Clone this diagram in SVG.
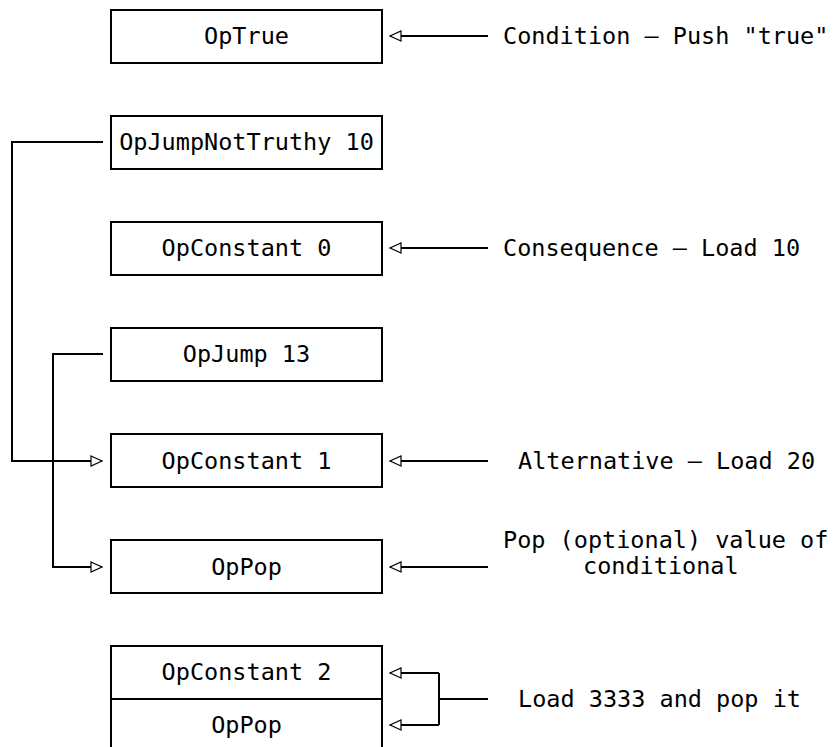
<svg xmlns="http://www.w3.org/2000/svg" width="834" height="747" viewBox="0 0 834 747">
<style>
  .box { fill: none; stroke: #000; stroke-width: 2; }
  .ln { fill: none; stroke: #000; stroke-width: 2; }
  text { font-family: "DejaVu Sans Mono", "Liberation Mono", monospace; font-size: 23.5px; fill: #000; }
  .c { text-anchor: middle; }
</style>
<defs>
  <marker id="arr" markerUnits="userSpaceOnUse" markerWidth="14" markerHeight="14" viewBox="-1 -1 14 12" refX="11" refY="5" orient="auto">
    <path d="M0,0 L11,5 L0,10 Z" fill="#fff" stroke="#000" stroke-width="1.2"/>
  </marker>
</defs>
<rect width="834" height="747" fill="#fff"/>

<g id="n-optrue">
  <rect class="box" x="111" y="10" width="271" height="53"/>
  <text class="c" x="246.5" y="44">OpTrue</text>
</g>
<g id="n-opjumpnottruthy">
  <rect class="box" x="111" y="116" width="271" height="53"/>
  <text class="c" x="246.5" y="150">OpJumpNotTruthy 10</text>
</g>
<g id="n-opconstant0">
  <rect class="box" x="111" y="222" width="271" height="53"/>
  <text class="c" x="246.5" y="256">OpConstant 0</text>
</g>
<g id="n-opjump">
  <rect class="box" x="111" y="328" width="271" height="53"/>
  <text class="c" x="246.5" y="362">OpJump 13</text>
</g>
<g id="n-opconstant1">
  <rect class="box" x="111" y="434" width="271" height="53"/>
  <text class="c" x="246.5" y="469">OpConstant 1</text>
</g>
<g id="n-oppop1">
  <rect class="box" x="111" y="540" width="271" height="53"/>
  <text class="c" x="246.5" y="575">OpPop</text>
</g>
<g id="n-opconstant2">
  <path class="box" d="M111,747 V646 H382 V747 M111,699 H382"/>
  <text class="c" x="246.5" y="680">OpConstant 2</text>
</g>
<g id="n-oppop2">
  <text class="c" x="246.5" y="733">OpPop</text>
</g>

<g id="labels">
  <text x="503" y="44">Condition – Push "true"</text>
  <text x="503" y="256">Consequence – Load 10</text>
  <text x="518" y="469">Alternative – Load 20</text>
  <text x="503" y="548">Pop (optional) value of</text>
  <text x="583" y="574">conditional</text>
  <text x="518" y="707">Load 3333 and pop it</text>
</g>

<g id="connectors">
  <path class="ln" d="M103,142 H12 V461 H102" marker-end="url(#arr)"/>
  <path class="ln" d="M103,354 H53 V567 H102" marker-end="url(#arr)"/>
  <path class="ln" d="M488,36 H390" marker-end="url(#arr)"/>
  <path class="ln" d="M488,248 H390" marker-end="url(#arr)"/>
  <path class="ln" d="M488,461 H390" marker-end="url(#arr)"/>
  <path class="ln" d="M488,567 H390" marker-end="url(#arr)"/>
  <path class="ln" d="M488,699 H439"/>
  <path class="ln" d="M439,673 V725"/>
  <path class="ln" d="M439,673 H390" marker-end="url(#arr)"/>
  <path class="ln" d="M439,725 H390" marker-end="url(#arr)"/>
</g>
</svg>
